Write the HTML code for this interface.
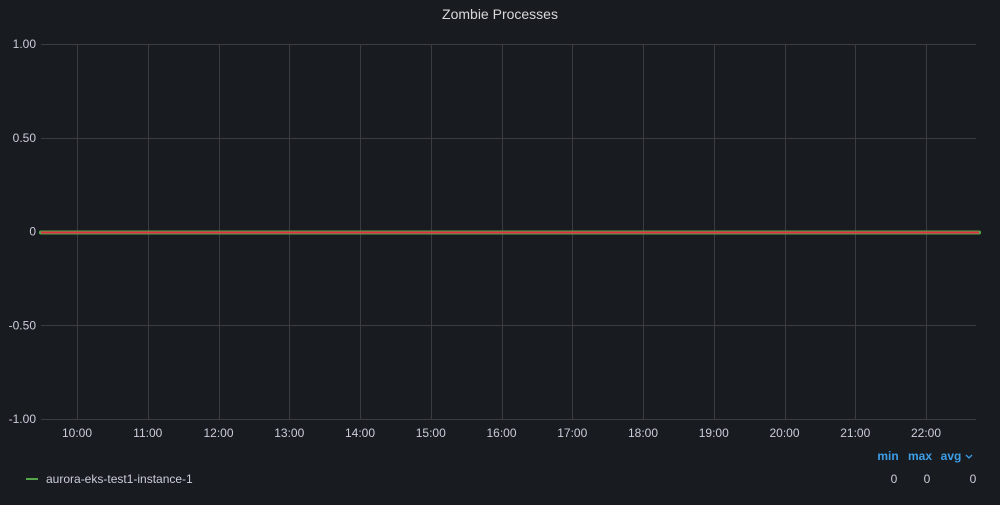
<!DOCTYPE html>
<html><head><meta charset="utf-8"><style>
body{margin:0;background:#181b1f;width:1000px;height:500px;overflow:hidden;font-family:"Liberation Sans",sans-serif;}
svg text{font-family:"Liberation Sans",sans-serif;}
</style></head><body>
<svg width="1000" height="500">
<text x="500" y="19" text-anchor="middle" fill="#d8d9da" font-size="14">Zombie Processes</text>
<g id="grid"></g><g id="series"></g>
<line x1="26" y1="479" x2="38" y2="479" stroke="#56a64b" stroke-width="2"/>
<text x="46" y="483" fill="#ccccdc" font-size="12">aurora-eks-test1-instance-1</text>
<text x="888" y="460" text-anchor="middle" fill="#3d9ee8" font-size="12" font-weight="bold">min</text>
<text x="920" y="460" text-anchor="middle" fill="#3d9ee8" font-size="12" font-weight="bold">max</text>
<text x="951" y="460" text-anchor="middle" fill="#3d9ee8" font-size="12" font-weight="bold">avg</text>
<path d="M966 455 l3 3 l3 -3" stroke="#3d9ee8" fill="none" stroke-width="1.3"/>
<text x="894" y="483" text-anchor="middle" fill="#ccccdc" font-size="12">0</text>
<text x="927" y="483" text-anchor="middle" fill="#ccccdc" font-size="12">0</text>
<text x="973" y="483" text-anchor="middle" fill="#ccccdc" font-size="12">0</text>
</svg>
<script>
const yTicks=[1,0.5,0,-0.5,-1];
const yLabels=["1.00","0.50","0","-0.50","-1.00"];
const xHours=[10,11,12,13,14,15,16,17,18,19,20,21,22];
const xLabels=["10:00","11:00","12:00","13:00","14:00","15:00","16:00","17:00","18:00","19:00","20:00","21:00","22:00"];
const seriesTimes=[9.49,10,11,12,13,14,15,16,17,18,19,20,21,22,22.75];
const seriesValues=[0,0,0,0,0,0,0,0,0,0,0,0,0,0,0];
const L=41,R=976,T=44,B=419;
const yS=v=>T+(1-v)/2*(B-T);
const xS=h=>77+(h-10)*70.75;
const NS="http://www.w3.org/2000/svg";
const g=document.getElementById('grid'),s=document.getElementById('series');
function mk(tag,at,p){const e=document.createElementNS(NS,tag);for(const k in at)e.setAttribute(k,at[k]);p.appendChild(e);return e;}
yTicks.forEach((v,i)=>{
const y=Math.round(yS(v))+0.5;
const l=mk('line',{x1:L,x2:R,y1:y,y2:y,stroke:'#3a3c41','stroke-width':1},g);


const t=mk('text',{x:36,y:yS(v)+4,'text-anchor':'end',fill:'#ccccdc','font-size':12},g);
t.textContent=yLabels[i];


});
xHours.forEach((h,i)=>{
const x=Math.round(xS(h))+0.5;
const l=mk('line',{x1:x,x2:x,y1:T,y2:B,stroke:'#3a3c41','stroke-width':1},g);


const t=mk('text',{x:xS(h),y:437,'text-anchor':'middle',fill:'#ccccdc','font-size':12},g);
t.textContent=xLabels[i];


});
const d=seriesTimes.map((h,i)=>(i?'L':'M')+xS(h)+' '+(Math.round(yS(seriesValues[i]))+0.5)).join(' ');
const a=mk('path',{d:d,stroke:'#56a64b','stroke-width':4,fill:'none','stroke-linecap':'round'},s);


const b=mk('path',{d:d,stroke:'#e02f44','stroke-width':2,fill:'none'},s);


</script>
</body></html>
